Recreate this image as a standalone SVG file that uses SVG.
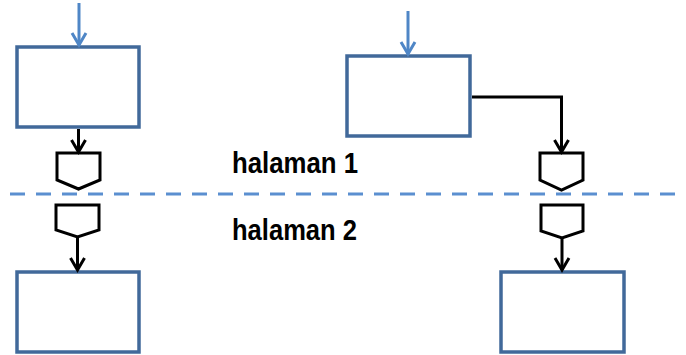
<svg xmlns="http://www.w3.org/2000/svg" width="686" height="355" viewBox="0 0 686 355">
<style>
.box{fill:#fff;stroke:#41699A;stroke-width:3.5}
.conn{fill:#fff;stroke:#000;stroke-width:3;stroke-linejoin:miter}
.blk{fill:none;stroke:#000;stroke-width:3}
.blu{fill:none;stroke:#4F86C6;stroke-width:3}
.lbl{font-family:"Liberation Sans",Arial,sans-serif;font-weight:bold;font-size:29px;fill:#000}
</style>
<defs>
<marker id="ab" markerUnits="userSpaceOnUse" markerWidth="18" markerHeight="18" viewBox="0 0 18 18" refX="15" refY="9" orient="auto">
<path d="M3,2 L15,9 L3,16" fill="none" stroke="#000" stroke-width="3"/>
</marker>
<marker id="au" markerUnits="userSpaceOnUse" markerWidth="18" markerHeight="18" viewBox="0 0 18 18" refX="15" refY="9" orient="auto">
<path d="M3,2 L15,9 L3,16" fill="none" stroke="#4F86C6" stroke-width="3"/>
</marker>
</defs>
<line x1="10" y1="194" x2="686" y2="194" stroke="#5B8FD0" stroke-width="3" stroke-dasharray="15 11"/>
<g id="box-tl"><rect class="box" x="17" y="47" width="122" height="80"/></g>
<g id="box-tr"><rect class="box" x="347" y="56" width="123" height="80"/></g>
<g id="box-bl"><rect class="box" x="17" y="272" width="122" height="80"/></g>
<g id="box-br"><rect class="box" x="501" y="272" width="123" height="80"/></g>
<g id="conn-l1"><path class="conn" d="M57,153 H100 V180 L78.5,189 L57,180 Z"/></g>
<g id="conn-l2"><path class="conn" d="M56,205 H99 V230 L77.5,237 L56,230 Z"/></g>
<g id="conn-r1"><path class="conn" d="M540,153 H583 V180 L561.5,190 L540,180 Z"/></g>
<g id="conn-r2"><path class="conn" d="M541,205 H583 V231 L562,238 L541,231 Z"/></g>
<g id="label1"><text class="lbl" x="232" y="173" textLength="126" lengthAdjust="spacingAndGlyphs">halaman 1</text></g>
<g id="label2"><text class="lbl" x="232" y="240" textLength="125" lengthAdjust="spacingAndGlyphs">halaman 2</text></g>
<g id="connectors">
<line class="blu" x1="79" y1="3" x2="79" y2="45" marker-end="url(#au)"/>
<line class="blu" x1="408" y1="11" x2="408" y2="54" marker-end="url(#au)"/>
<line class="blk" x1="78.5" y1="129" x2="78.5" y2="152" marker-end="url(#ab)"/>
<path class="blk" d="M472,97 H561.5 V152" marker-end="url(#ab)"/>
<line class="blk" x1="77.5" y1="237" x2="77.5" y2="270" marker-end="url(#ab)"/>
<line class="blk" x1="562" y1="238" x2="562" y2="270" marker-end="url(#ab)"/>
</g>
</svg>
